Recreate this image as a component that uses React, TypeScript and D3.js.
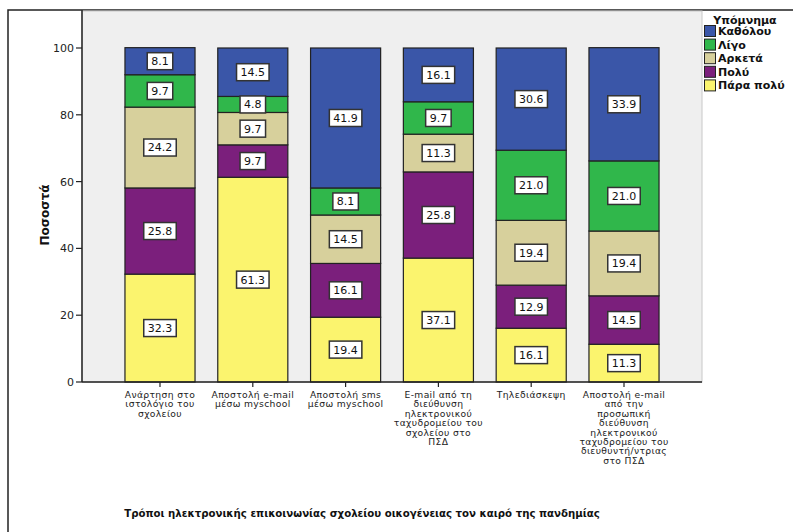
import React, { useRef, useEffect } from 'react';
import * as d3 from 'd3';

// category labels, already broken into lines as in the picture
const categories: string[][] = [
  ['Ανάρτηση στο', 'ιστολόγιο του', 'σχολείου'],
  ['Αποστολή e-mail', 'μέσω myschool'],
  ['Αποστολή sms', 'μέσω myschool'],
  ['E-mail από τη', 'διεύθυνση', 'ηλεκτρονικού', 'ταχυδρομείου του', 'σχολείου στο', 'ΠΣΔ'],
  ['Τηλεδιάσκεψη'],
  ['Αποστολή e-mail', 'από την', 'προσωπική', 'διεύθυνση', 'ηλεκτρονικού', 'ταχυδρομείου του', 'διευθυντή/ντριας', 'στο ΠΣΔ'],
];

// stack order, bottom to top
const levels = ['Πάρα πολύ', 'Πολύ', 'Αρκετά', 'Λίγο', 'Καθόλου'];
const levelColors = ['#fbf46e', '#7b1f7c', '#d7d09c', '#30b74b', '#3a56a8'];

const paraPoly = [32.3, 61.3, 19.4, 37.1, 16.1, 11.3];
const poly = [25.8, 9.7, 16.1, 25.8, 12.9, 14.5];
const arketa = [24.2, 9.7, 14.5, 11.3, 19.4, 19.4];
const ligo = [9.7, 4.8, 8.1, 9.7, 21.0, 21.0];
const katholou = [8.1, 14.5, 41.9, 16.1, 30.6, 33.9];

const yTicks = [0, 20, 40, 60, 80, 100];

const FONT = '"DejaVu Sans", Verdana, sans-serif';

const App: React.FC = () => {
  const svgRef = useRef<SVGSVGElement>(null);

  useEffect(() => {
    if (!svgRef.current) return;
    const svg = d3.select(svgRef.current);
    svg.selectAll('*').remove();

    const width = 793;
    const height = 532;
    const plot = { left: 82, right: 702, top: 10, bottom: 382 };

    svg.attr('width', width).attr('height', height);

    // outer frame
    svg.append('path')
      .attr('d', `M8,${height + 2}V10H${width + 2}`)
      .attr('fill', 'none')
      .attr('stroke', '#222')
      .attr('stroke-width', 1.5);

    // plot background
    svg.append('rect')
      .attr('x', plot.left)
      .attr('y', plot.top + 1)
      .attr('width', plot.right - plot.left)
      .attr('height', plot.bottom - plot.top - 1)
      .attr('fill', '#efefef')
      .attr('stroke', '#c8c8c8')
      .attr('stroke-width', 1);

    const x = d3.scaleBand<number>()
      .domain(d3.range(categories.length))
      .range([plot.left, plot.right])
      .paddingInner(0.245)
      .paddingOuter(0.463);

    const y = d3.scaleLinear().domain([0, 100]).range([plot.bottom, 48]);

    const table = categories.map((_, i) => ({
      i,
      'Πάρα πολύ': paraPoly[i],
      'Πολύ': poly[i],
      'Αρκετά': arketa[i],
      'Λίγο': ligo[i],
      'Καθόλου': katholou[i],
    }));

    const stack = d3.stack<any>().keys(levels);
    const series = stack(table);

    const color = d3.scaleOrdinal<string>().domain(levels).range(levelColors);

    const layers = svg.append('g')
      .selectAll('g')
      .data(series)
      .enter().append('g')
      .attr('fill', d => color(d.key));

    layers.selectAll('rect')
      .data(d => d)
      .enter().append('rect')
      .attr('x', d => x(d.data.i)!)
      .attr('y', d => y(d[1]))
      .attr('width', x.bandwidth())
      .attr('height', d => y(d[0]) - y(d[1]))
      .attr('stroke', '#222')
      .attr('stroke-width', 1.2);

    // value labels in boxes
    const labels = svg.append('g');
    series.forEach(s => {
      s.forEach(d => {
        const cx = x(d.data.i)! + x.bandwidth() / 2;
        const cy = (y(d[0]) + y(d[1])) / 2;
        const g = labels.append('g');
        const rect = g.append('rect');
        const t = g.append('text')
          .attr('x', cx)
          .attr('y', cy)
          .attr('dy', '0.36em')
          .attr('text-anchor', 'middle')
          .attr('font-family', FONT)
          .attr('font-size', 11)
          .attr('fill', '#111')
          .text((d[1] - d[0]).toFixed(1));
        const w = (t.node() as SVGTextElement).getComputedTextLength() + 8;
        rect.attr('x', cx - w / 2)
          .attr('y', cy - 8.5)
          .attr('width', w)
          .attr('height', 17)
          .attr('fill', '#fff')
          .attr('stroke', '#333')
          .attr('stroke-width', 1.5);
      });
    });

    // y axis
    const yAxis = svg.append('g');
    yAxis.append('line')
      .attr('x1', plot.left).attr('x2', plot.left)
      .attr('y1', plot.top).attr('y2', plot.bottom)
      .attr('stroke', '#222').attr('stroke-width', 1.5);
    yTicks.forEach(v => {
      yAxis.append('line')
        .attr('x1', plot.left - 6).attr('x2', plot.left)
        .attr('y1', y(v)).attr('y2', y(v))
        .attr('stroke', '#222').attr('stroke-width', 1.2);
      yAxis.append('text')
        .attr('x', plot.left - 8)
        .attr('y', y(v))
        .attr('dy', '0.36em')
        .attr('text-anchor', 'end')
        .attr('font-family', FONT)
        .attr('font-size', 11)
        .attr('fill', '#222')
        .text(v);
    });

    // x axis
    const xAxis = svg.append('g');
    xAxis.append('line')
      .attr('x1', plot.left).attr('x2', plot.right)
      .attr('y1', plot.bottom).attr('y2', plot.bottom)
      .attr('stroke', '#222').attr('stroke-width', 1.5);
    categories.forEach((lines, i) => {
      const cx = x(i)! + x.bandwidth() / 2;
      xAxis.append('line')
        .attr('x1', cx).attr('x2', cx)
        .attr('y1', plot.bottom).attr('y2', plot.bottom + 5)
        .attr('stroke', '#222').attr('stroke-width', 1.2);
      const t = xAxis.append('text')
        .attr('text-anchor', 'middle')
        .attr('font-family', FONT)
        .attr('font-size', 9.2)
        .attr('letter-spacing', 0.35)
        .attr('fill', '#222');
      lines.forEach((line, k) => {
        t.append('tspan')
          .attr('x', cx)
          .attr('y', plot.bottom + 16 + k * 9.4)
          .text(line);
      });
    });

    // axis titles
    svg.append('text')
      .attr('transform', `translate(49,215) rotate(-90)`)
      .attr('text-anchor', 'middle')
      .attr('font-family', FONT)
      .attr('font-size', 12)
      .attr('font-weight', 'bold')
      .attr('fill', '#111')
      .text('Ποσοστά');

    svg.append('text')
      .attr('x', 362)
      .attr('y', 517)
      .attr('text-anchor', 'middle')
      .attr('font-family', FONT)
      .attr('font-size', 10.2)
      .attr('font-weight', 'bold')
      .attr('fill', '#111')
      .text('Τρόποι ηλεκτρονικής επικοινωνίας σχολείου οικογένειας τον καιρό της πανδημίας');

    // legend
    const legend = svg.append('g');
    legend.append('text')
      .attr('x', 745)
      .attr('y', 24)
      .attr('text-anchor', 'middle')
      .attr('font-family', FONT)
      .attr('font-size', 11)
      .attr('font-weight', 'bold')
      .attr('fill', '#111')
      .text('Υπόμνημα');
    const legendOrder = levels.slice().reverse();
    legendOrder.forEach((key, k) => {
      const ly = 31 + k * 13.6;
      legend.append('rect')
        .attr('x', 704.5)
        .attr('y', ly - 5.5)
        .attr('width', 11)
        .attr('height', 11)
        .attr('fill', color(key))
        .attr('stroke', '#222')
        .attr('stroke-width', 1);
      legend.append('text')
        .attr('x', 718)
        .attr('y', ly)
        .attr('dy', '0.36em')
        .attr('font-family', FONT)
        .attr('font-size', 11)
        .attr('font-weight', 'bold')
        .attr('fill', '#111')
        .text(key);
    });
  }, []);

  return <svg ref={svgRef} style={{ position: 'absolute', left: 0, top: 0, display: 'block' }}></svg>;
};

export default App;
